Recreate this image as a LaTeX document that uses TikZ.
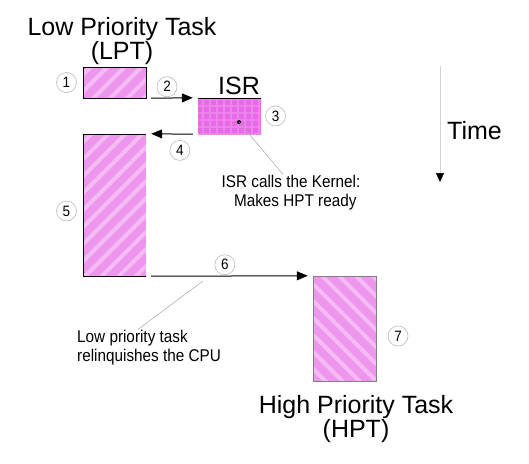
\documentclass[tikz,border=0pt]{standalone}
\usepackage{fontspec}
\setmainfont{Liberation Sans}
\newfontfamily\narrowfont[FakeStretch=0.9]{Liberation Sans}
\usetikzlibrary{positioning,patterns.meta,arrows.meta}
\definecolor{taskpink}{RGB}{238,150,238}
\definecolor{isrpink}{RGB}{232,105,232}
\tikzset{
  taskbox/.style={minimum width=63pt, inner sep=0pt, preaction={fill=taskpink}},
  upstripes/.style={preaction={pattern={Lines[angle=45,distance=12pt,line width=4pt]}, pattern color=taskpink!65!white}},
  downstripes/.style={preaction={pattern={Lines[angle=-45,distance=12pt,line width=4pt]}, pattern color=taskpink!65!white}},
  isrbox/.style={minimum width=63pt, inner sep=0pt, preaction={fill=isrpink}, preaction={pattern={Hatch[distance=7pt,line width=2.5pt]}, pattern color=isrpink!82!white}},
  num/.style={circle, draw=gray!55, line width=0.6pt, inner sep=0pt, minimum size=20pt, font=\narrowfont\fontsize{15}{15}\selectfont},
  title/.style={inner sep=0pt, align=center, font=\fontsize{25}{24}\selectfont},
  note/.style={inner sep=1pt, font=\narrowfont\fontsize{17}{19}\selectfont},
  flow/.style={-{Triangle[length=11pt,width=9pt]}, line width=1pt},
  pointer/.style={draw=gray!70, line width=0.5pt}
}
\begin{document}
\begin{tikzpicture}[x=1pt, y=-1pt]
  \useasboundingbox (0,0) rectangle (529,463);

  % tasks
  \node[taskbox, upstripes, draw, minimum height=31pt] (lptA) at (114.5,82.5) {};
  \node[isrbox, minimum height=36pt] (isr) at (229.5,116) {};
  \node[taskbox, upstripes, minimum height=142pt] (lptB) at (114.5,205) {};
  \node[taskbox, downstripes, draw=gray, minimum height=105pt] (hpt) at (344.5,328.5) {};
  \draw (isr.north west) -- (isr.north east);
  \draw (lptB.north east) -- (lptB.north west) -- (lptB.south west) -- (lptB.south east);

  % titles
  \node[title, above=2pt of lptA, xshift=7.5pt] (lpttitle) {Low Priority Task\\(LPT)};
  \node[title, above=3pt of isr, xshift=9.5pt] (isrtitle) {ISR};
  \node[title, below=14pt of hpt, xshift=11.5pt] (hpttitle) {High Priority Task\\(HPT)};

  % step numbers
  \node[num, left=6pt of lptA] (n1) {1};
  \node[num, right=4pt of isr] (n3) {3};
  \node[num, left=6pt of lptB, yshift=-6pt] (n5) {5};
  \node[num] (n7) at (398,336) {7};

  % switches
  \draw[flow] ([xshift=5pt]lptA.south east) -- ([xshift=-5pt]isr.north west)
    node[num, pos=0.38, above=1pt] (n2) {2};
  \draw[flow] ([xshift=-5pt]isr.south west) -- ([xshift=5pt]lptB.north east)
    node[num, pos=0.31, below=6pt] (n4) {4};
  \draw[flow] ([xshift=5pt]lptB.south east) -- ([xshift=-5pt]hpt.north west)
    node[num, pos=0.47, above=1pt] (n6) {6};

  % notes
  \coordinate (isrdot) at ([shift={(9.5,6)}]isr.center);
  \fill (isrdot) circle (2pt);
  \node[note, align=center] (isrnote) at (291,193) {ISR calls the Kernel:\\\ \ Makes HPT ready};
  \draw[pointer] (isrdot) -- ([xshift=-8pt]isrnote.north);
  \coordinate (relpt) at (203,281);
  \node[note, align=left, anchor=west] (lpnote) at (76,348) {Low priority task\\relinquishes the CPU};
  \draw[pointer] (relpt) -- ([xshift=-11pt]lpnote.north);

  % time axis
  \coordinate (ttop) at (440,66);
  \coordinate (tbot) at (440,182);
  \draw[gray!35, line width=0.6pt, -{Triangle[length=9pt,width=8pt,color=black]}] (ttop) -- (tbot);
  \node[anchor=west, inner sep=0pt, font=\fontsize{25}{25}\selectfont] (time) at (447,131) {Time};
\end{tikzpicture}
\end{document}
